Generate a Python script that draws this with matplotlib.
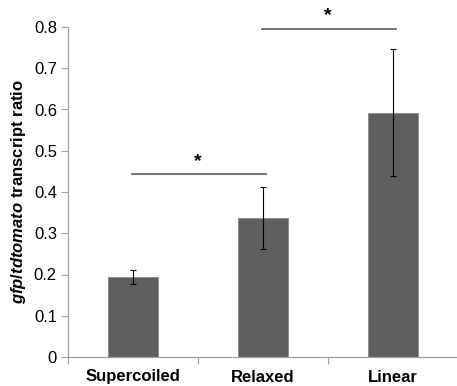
import matplotlib
matplotlib.use("Agg")
import matplotlib.pyplot as plt

# data
conditions = ["Supercoiled", "Relaxed", "Linear"]
ratio = [0.193, 0.338, 0.592]
ratio_err = [0.017, 0.075, 0.154]
# significance brackets: (from bar, to bar, height)
sig_pairs = [(0, 1, 0.444), (1, 2, 0.796)]

plt.rcParams["font.family"] = "Liberation Sans"
plt.rcParams["mathtext.fontset"] = "custom"
plt.rcParams["mathtext.it"] = "Liberation Sans:italic:bold"
plt.rcParams["mathtext.rm"] = "Liberation Sans:bold"

fig = plt.figure(figsize=(4.57, 3.86), dpi=100)
ax = fig.add_axes([68/457, 29/386, 390/457, 330/386])

x = list(range(len(conditions)))
ax.bar(x, ratio, width=0.39, color="#5f5f5f", edgecolor="#8a8a8a", linewidth=0.6, zorder=2)
ax.errorbar(x, ratio, yerr=ratio_err, fmt="none", ecolor="black", elinewidth=0.8,
            capsize=2.2, capthick=0.8, zorder=3)

for a, b, h in sig_pairs:
    ax.plot([a - 0.01, b + 0.02], [h, h], color="#6a6a6a", lw=1.3, clip_on=False, zorder=3)
    ax.text((a + b) / 2, h + 0.01, "*", ha="center", va="bottom", fontsize=14,
            fontweight="bold", clip_on=False)

ax.set_xlim(-0.5, 2.5)
ax.set_ylim(0, 0.8)
ax.set_yticks([0, 0.1, 0.2, 0.3, 0.4, 0.5, 0.6, 0.7, 0.8])
ax.set_yticklabels(["0", "0.1", "0.2", "0.3", "0.4", "0.5", "0.6", "0.7", "0.8"])
ax.set_xticks(x)
ax.set_xticklabels(conditions, fontsize=12, fontweight="bold")
ax.set_xticks([-0.5, 0.5, 1.5, 2.5], minor=True)
ax.tick_params(axis="x", which="major", length=0, pad=9)
ax.tick_params(axis="x", which="minor", length=5, color="#a0a0a0", width=0.8)
ax.tick_params(axis="y", length=5, color="#a0a0a0", width=0.8, labelsize=12, pad=3)

for s in ["top", "right"]:
    ax.spines[s].set_visible(False)
for s in ["left", "bottom"]:
    ax.spines[s].set_color("#a0a0a0")
    ax.spines[s].set_linewidth(0.9)

ax.set_ylabel(r"$gfp/tdtomato$ transcript ratio", fontsize=12, fontweight="bold", labelpad=4)

fig.savefig("out.png", dpi=100)
